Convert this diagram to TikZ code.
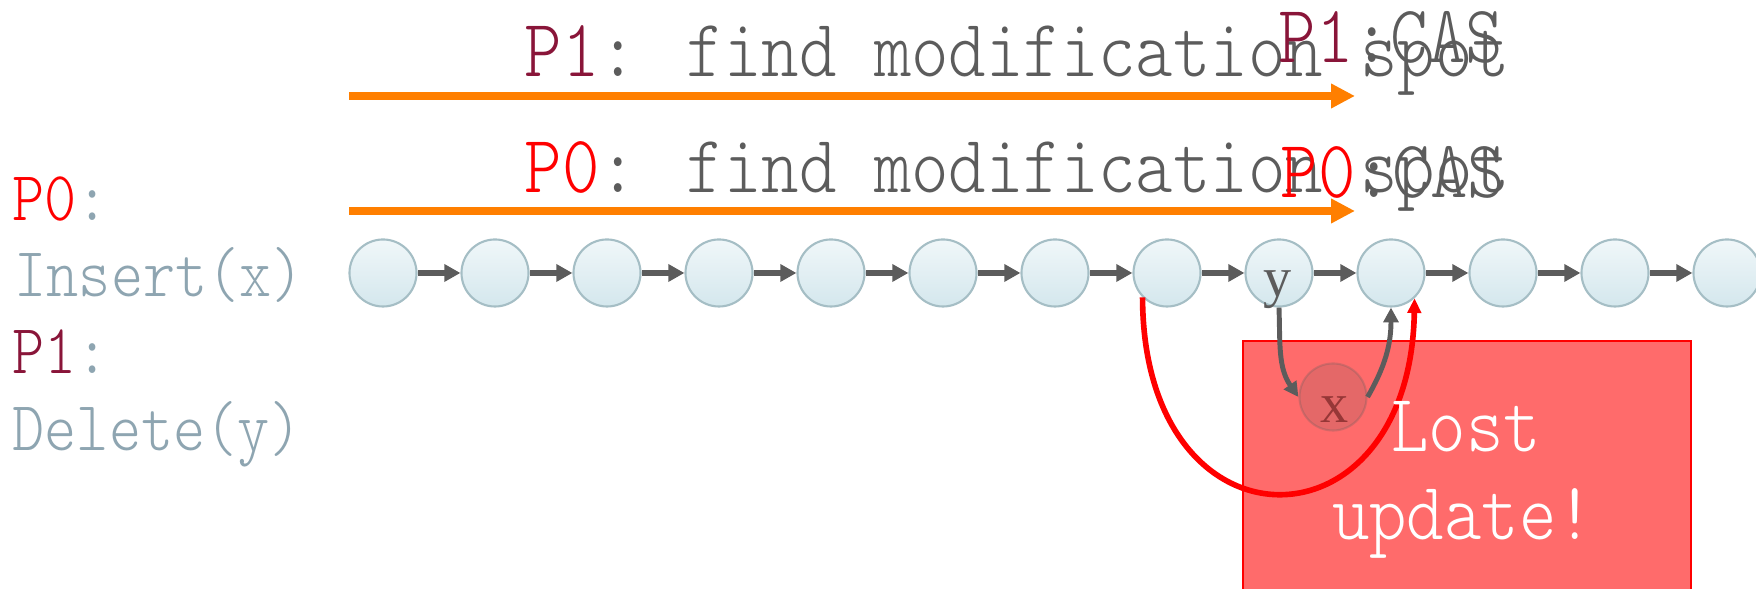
\documentclass[tikz,border=0pt]{standalone}
\usepackage{fontspec}
\newfontfamily\simfont{lmmonolt10-regular}[Extension=.otf,FakeStretch=0.87]
\newfontfamily\labfont{Liberation Serif}
\usetikzlibrary{arrows.meta}
\definecolor{orng}{RGB}{255,127,0}
\definecolor{darkgr}{RGB}{92,92,92}
\definecolor{maroon}{RGB}{137,21,57}
\definecolor{slate}{RGB}{142,165,177}
\definecolor{nodeedge}{RGB}{165,190,197}
\definecolor{nodetop}{RGB}{240,247,249}
\definecolor{nodebot}{RGB}{212,231,237}
\begin{document}
\begin{tikzpicture}[x=0.01cm,y=-0.01cm,
  elem/.style={circle,draw=nodeedge,line width=0.6pt,minimum size=0.67cm,inner sep=0pt,top color=nodetop,bottom color=nodebot},
  ghost/.style={circle,draw=darkgr,draw opacity=0.25,fill=darkgr,fill opacity=0.16,line width=0.6pt,minimum size=0.67cm,inner sep=0pt},
  link/.style={darkgr,line width=1.7pt,-{Triangle[length=4.6pt,width=4.8pt]}},
  scan/.style={orng,line width=2pt,-{Triangle[length=6.8pt,width=6.6pt]}},
  relink/.style={darkgr,line width=1.4pt,-{Triangle[length=4.2pt,width=4.2pt]}},
  lost/.style={red,line width=1.6pt,-{Triangle[length=4.2pt,width=3.8pt]}},
  big/.style={inner sep=0pt,anchor=base west,text=darkgr,font=\simfont\fontsize{23.3}{28}\selectfont},
  side/.style={inner sep=0pt,anchor=base west,text=slate,font=\simfont\fontsize{20}{24}\selectfont},
  labtxt/.style={inner sep=0pt,anchor=base,font=\labfont\fontsize{16}{18}\selectfont}]
  \clip (0,0) rectangle (1756,589);

  \node[side] (op0) at (12,221) {\textcolor{red}{P0}:};
  \node[side] (ins) at (14,297) {Insert(x)};
  \node[side] (op1) at (12,374) {\textcolor{maroon}{P1}:};
  \node[side] (del) at (12,451) {Delete(y)};

  \coordinate (s1) at (349,96);
  \coordinate (e1) at (1355,96);
  \coordinate (s0) at (349,211);
  \coordinate (e0) at (1355,211);
  \draw[scan] (s1) -- (e1);
  \draw[scan] (s0) -- (e0);
  \node[big] (find1) at (524,77) {\textcolor{maroon}{P1}: find modification spot};
  \node[big] (find0) at (524,193) {\textcolor{red}{P0}: find modification spot};
  \node[big] (cas1) at (1278,63) {\textcolor{maroon}{P1}:CAS};
  \node[big] (cas0) at (1280,198) {\textcolor{red}{P0}:CAS};

  \foreach \i in {0,...,12}
    \node[elem] (n\i) at (383+112*\i,273) {};
  \foreach \i [evaluate=\i as \j using int(\i+1)] in {0,...,11}
    \draw[link] (n\i) -- (n\j);
  \node[labtxt,text=darkgr] (ylab) at (1278,297) {y};

  \draw[red,line width=0.6pt,fill=red,fill opacity=0.58] (1243,341) rectangle (1691,600);
  \node[ghost] (x) at (1333,397) {};
  \node[labtxt,text={rgb,255:red,150;green,55;blue,55}] (xlab) at (1335,423) {x};

  \draw[relink] (n8.south) to[out=-88,in=125] (x.west);
  \draw[relink] (x.east) to[out=60,in=-90] (n9.south);
  \draw[lost] (n7.-135) .. controls (1143,558) and (1410,558) .. (n9.-47);

  \node[big,anchor=base,text=white] (lost1) at (1466,452) {Lost};
  \node[big,anchor=base,text=white] (lost2) at (1463,540) {update!};
\end{tikzpicture}
\end{document}
